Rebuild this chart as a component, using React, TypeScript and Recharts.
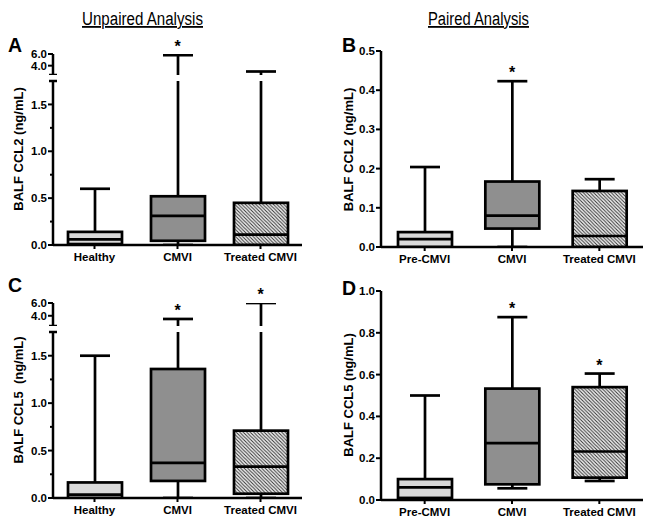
import { ComposedChart, Bar, XAxis, YAxis, ReferenceDot, Label } from "recharts";

const UNPAIRED = ["Healthy", "CMVI", "Treated CMVI"];
const PAIRED = ["Pre-CMVI", "CMVI", "Treated CMVI"];

// A: BALF CCL2, unpaired
const A_MIN = [0, 0, 0];
const A_Q1 = [0.01, 0.045, 0];
const A_MED = [0.06, 0.31, 0.11];
const A_Q3 = [0.14, 0.52, 0.45];
const A_MAX = [0.6, 5.8, 3.0];
const A_SIG = [false, true, false];

// B: BALF CCL2, paired
const B_MIN = [0, 0, 0];
const B_Q1 = [0, 0.047, 0];
const B_MED = [0.02, 0.08, 0.028];
const B_Q3 = [0.038, 0.167, 0.143];
const B_MAX = [0.204, 0.423, 0.173];
const B_SIG = [false, true, false];

// C: BALF CCL5, unpaired
const C_MIN = [0, 0, 0];
const C_Q1 = [0, 0.18, 0.045];
const C_MED = [0.035, 0.37, 0.33];
const C_Q3 = [0.164, 1.36, 0.71];
const C_MAX = [1.5, 3.5, 6.0];
const C_SIG = [false, true, true];

// D: BALF CCL5, paired
const D_MIN = [0, 0.056, 0.091];
const D_Q1 = [0.01, 0.075, 0.107];
const D_MED = [0.06, 0.272, 0.232];
const D_Q3 = [0.1, 0.533, 0.54];
const D_MAX = [0.5, 0.875, 0.605];
const D_SIG = [false, true, true];

const FONT = "'Liberation Sans', Arial, Helvetica, sans-serif";

const makeRows = (cats: string[], min: number[], q1: number[], med: number[], q3: number[], max: number[], sig: boolean[]) =>
  cats.map((name, i) => ({
    name,
    range: [min[i], max[i]],
    min: min[i],
    q1: q1[i],
    med: med[i],
    q3: q3[i],
    max: max[i],
    sig: sig[i],
    kind: i,
  }));

const BoxShape = (props: any) => {
  const { x, y, width, height, payload, hatchId } = props;
  const { min, q1, med, q3, max, kind } = payload;
  const span = max - min || 1;
  const py = (v: number) => y + (height * (max - v)) / span;
  const cx = x + width / 2;
  const capW = 30;
  const fill = kind === 0 ? "#d9d9d9" : kind === 1 ? "#8f8f8f" : `url(#${hatchId})`;
  return (
    <g stroke="#000" strokeWidth={2.7} fill="none">
      <line x1={cx} x2={cx} y1={py(max)} y2={py(q3)} />
      <line x1={cx} x2={cx} y1={py(q1)} y2={py(min)} />
      <line x1={cx - capW / 2} x2={cx + capW / 2} y1={py(max)} y2={py(max)} />
      <line x1={cx - capW / 2} x2={cx + capW / 2} y1={py(min)} y2={py(min)} />
      <rect x={x} y={py(q3)} width={width} height={Math.max(0, py(q1) - py(q3))} fill={fill} />
      <line x1={x} x2={x + width} y1={py(med)} y2={py(med)} />
    </g>
  );
};

const YTick = (props: any) => {
  const { x, y, payload, minor = [], brk = [] } = props;
  const v = payload.value;
  const ax = x + 5;
  if (brk.includes(v)) {
    return <line x1={ax - 4} x2={ax + 4} y1={y} y2={y} stroke="#000" strokeWidth={2.5} />;
  }
  const isMinor = minor.includes(v);
  return (
    <g>
      <line x1={ax - (isMinor ? 3 : 5)} x2={ax} y1={y} y2={y} stroke="#000" strokeWidth={2} />
      {!isMinor && (
        <text x={ax - 6} y={y} dy="0.355em" textAnchor="end" fontFamily={FONT} fontWeight={700} fontSize={11.5} fill="#000">
          {v.toFixed(1)}
        </text>
      )}
    </g>
  );
};

type SegProps = {
  id: string;
  data: any[];
  left: number;
  top: number;
  width: number;
  height: number;
  yWidth: number;
  marginTop?: number;
  domain: [number, number];
  ticks: number[];
  minor?: number[];
  brk?: number[];
  showX: boolean;
  title?: { text: string; cx: number; cy: number };
};

const Segment = ({ id, data, left, top, width, height, yWidth, marginTop = 10, domain, ticks, minor, brk, showX, title }: SegProps) => {
  const hatchId = `hatch-${id}`;
  const stars = data.filter((d) => d.sig && d.max >= domain[0] && d.max <= domain[1]);
  return (
    <div style={{ position: "absolute", left, top, width, height }}>
      <ComposedChart width={width} height={height} data={data} margin={{ top: marginTop, right: 8, bottom: 0, left: 0 }}>
        <defs>
          <pattern id={hatchId} patternUnits="userSpaceOnUse" width={3.5} height={3.5}>
            <rect width={3.5} height={3.5} fill="#f2f2f2" />
            <path d="M-1,-1 L4.5,4.5 M-1,2.5 L1,4.5 M2.5,-1 L4.5,1" stroke="#333" strokeWidth={1} />
          </pattern>
        </defs>
        <XAxis
          dataKey="name"
          hide={!showX}
          interval={0}
          axisLine={{ stroke: "#000", strokeWidth: 2.5 }}
          tickLine={{ stroke: "#000", strokeWidth: 2 }}
          tickSize={4}
          tickMargin={4}
          tick={{ fill: "#000", fontFamily: FONT, fontWeight: 700, fontSize: 11.5 }}
        />
        <YAxis
          width={yWidth}
          domain={domain}
          allowDataOverflow
          ticks={ticks}
          interval={0}
          axisLine={{ stroke: "#000", strokeWidth: 2.5 }}
          tickLine={false}
          tickSize={4}
          tickMargin={1}
          tick={(p: any) => <YTick {...p} minor={minor} brk={brk} />}
        >
          {title && (
            <Label
              content={() => (
                <text
                  x={title.cx}
                  y={title.cy}
                  transform={`rotate(-90 ${title.cx} ${title.cy})`}
                  textAnchor="middle"
                  dominantBaseline="central"
                  fontFamily={FONT}
                  fontWeight={700}
                  fontSize={13}
                  fill="#000"
                  style={{ whiteSpace: "pre" }}
                >
                  {title.text}
                </text>
              )}
            />
          )}
        </YAxis>
        <Bar
          dataKey="range"
          barSize={54}
          isAnimationActive={false}
          shape={(p: any) => <BoxShape {...p} hatchId={hatchId} />}
        />
        {stars.map((d) => (
          <ReferenceDot
            key={d.name}
            x={d.name}
            y={d.max}
            r={0}
            fill="none"
            stroke="none"
            ifOverflow="visible"
            label={{ value: "*", position: "top", offset: 3, fill: "#000", fontSize: 16, fontWeight: 700, fontFamily: FONT }}
          />
        ))}
      </ComposedChart>
    </div>
  );
};

const dataA = makeRows(UNPAIRED, A_MIN, A_Q1, A_MED, A_Q3, A_MAX, A_SIG);
const dataB = makeRows(PAIRED, B_MIN, B_Q1, B_MED, B_Q3, B_MAX, B_SIG);
const dataC = makeRows(UNPAIRED, C_MIN, C_Q1, C_MED, C_Q3, C_MAX, C_SIG);
const dataD = makeRows(PAIRED, D_MIN, D_Q1, D_MED, D_Q3, D_MAX, D_SIG);

const LOW_TICKS = [0, 0.25, 0.5, 0.75, 1, 1.25, 1.5, 1.75];
const LOW_MINOR = [0.25, 0.75, 1.25];
const UP_TICKS = [2.4, 4, 6];

export default function App() {
  return (
    <div style={{ position: "absolute", left: 0, top: 0, width: 660, height: 526, background: "#fff", fontFamily: FONT }}>
      <svg width={660} height={526} style={{ position: "absolute", left: 0, top: 0 }}>
        <text x={142.5} y={25} textAnchor="middle" fontFamily={FONT} fontSize={18} textLength={121} lengthAdjust="spacingAndGlyphs" textDecoration="underline" fill="#000">
          Unpaired Analysis
        </text>
        <text x={478.5} y={25} textAnchor="middle" fontFamily={FONT} fontSize={18} textLength={101} lengthAdjust="spacingAndGlyphs" textDecoration="underline" fill="#000">
          Paired Analysis
        </text>
        <text x={8} y={52} fontFamily={FONT} fontWeight={700} fontSize={19.5} fill="#000">A</text>
        <text x={342} y={52} fontFamily={FONT} fontWeight={700} fontSize={19.5} fill="#000">B</text>
        <text x={8} y={292} fontFamily={FONT} fontWeight={700} fontSize={19.5} fill="#000">C</text>
        <text x={342} y={295} fontFamily={FONT} fontWeight={700} fontSize={19.5} fill="#000">D</text>
      </svg>

      {/* A */}
      <Segment id="a-up" data={dataA} left={0} top={24} width={310} height={51} marginTop={30} yWidth={53} domain={[2.4, 6]} ticks={UP_TICKS} brk={[2.4]} showX={false} />
      <Segment
        id="a-low" data={dataA} left={0} top={71} width={310} height={204} yWidth={53}
        domain={[0, 1.75]} ticks={LOW_TICKS} minor={LOW_MINOR} brk={[1.75]} showX
        title={{ text: "BALF CCL2 (ng/mL)", cx: 18, cy: 78 }}
      />

      {/* B */}
      <Segment
        id="b" data={dataB} left={330} top={41} width={321} height={236} yWidth={51}
        domain={[0, 0.5]} ticks={[0, 0.1, 0.2, 0.3, 0.4, 0.5]} showX
        title={{ text: "BALF CCL2 (ng/mL)", cx: 18, cy: 108.5 }}
      />

      {/* C */}
      <Segment id="c-up" data={dataC} left={0} top={273} width={310} height={53} marginTop={30} yWidth={53} domain={[2.4, 6]} ticks={UP_TICKS} brk={[2.4]} showX={false} />
      <Segment
        id="c-low" data={dataC} left={0} top={322} width={310} height={206} yWidth={53}
        domain={[0, 1.75]} ticks={LOW_TICKS} minor={LOW_MINOR} brk={[1.75]} showX
        title={{ text: "BALF CCL5  (ng/mL)", cx: 18, cy: 78 }}
      />

      {/* D */}
      <Segment
        id="d" data={dataD} left={330} top={281} width={321} height={249} yWidth={51}
        domain={[0, 1]} ticks={[0, 0.2, 0.4, 0.6, 0.8, 1]} showX
        title={{ text: "BALF CCL5 (ng/mL)", cx: 18, cy: 114 }}
      />
    </div>
  );
}
